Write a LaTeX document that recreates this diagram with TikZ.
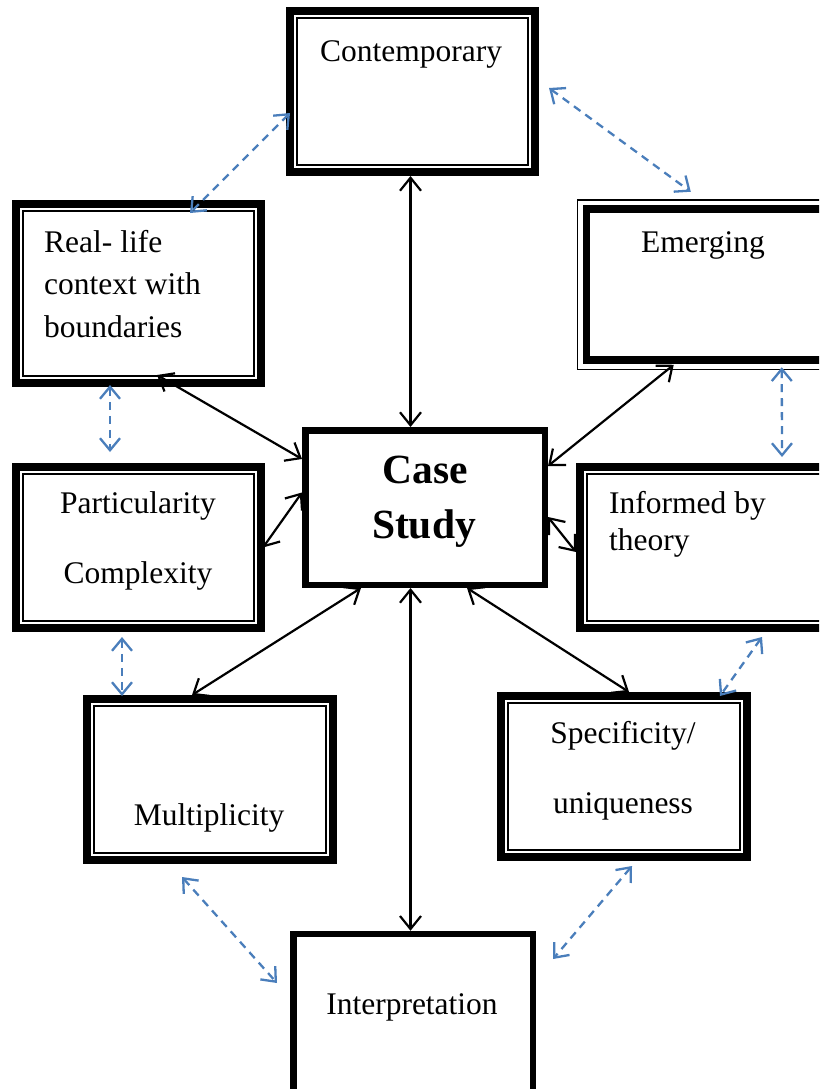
\documentclass[tikz,border=0pt]{standalone}
\usepackage{fontspec}
\setmainfont{Liberation Serif}
\usetikzlibrary{arrows.meta,calc}
\definecolor{dashblue}{RGB}{74,126,187}
\tikzset{
  x=1pt,y=-1pt,
  thickbox/.style={draw=black,line width=8pt,inner sep=0pt,fill=white},
  plainbox/.style={draw=black,line width=6.5pt,inner sep=0pt,fill=white},
  thinline/.style={draw=black,line width=1.5pt},
  lbl/.style={inner sep=0pt,anchor=base,font=\fontsize{31.5}{37}\selectfont},
  lblw/.style={lbl,anchor=base west},
  blbl/.style={inner sep=0pt,anchor=base,font=\fontsize{41.5}{48}\selectfont\bfseries},
  conn/.style={line width=2.2pt,draw=black,{Straight Barb[length=13pt,width=21pt]}-{Straight Barb[length=13pt,width=21pt]}},
  dconn/.style={line width=2.3pt,draw=dashblue,dash pattern=on 8pt off 6pt,{Straight Barb[length=12pt,width=20pt]}-{Straight Barb[length=12pt,width=20pt]}}
}
\newcommand\innerframe[2]{\draw[thinline] ($(#1.north west)+(#2,#2)$) rectangle ($(#1.south east)+(-#2,-#2)$);}
\begin{document}
\begin{tikzpicture}
\path[use as bounding box] (0,0) rectangle (819,1089);
\clip (0,0) rectangle (819,1089);
% boxes
\node[thickbox,minimum width=245pt,minimum height=161pt] (cont) at (412.5,91.5) {};
\innerframe{cont}{11}
\node[thickbox,minimum width=245pt,minimum height=179pt] (real) at (138.5,293.5) {};
\innerframe{real}{11}
\node[thickbox,line width=7.5pt,minimum width=253.5pt,minimum height=151pt] (emer) at (713.25,284.5) {};
\innerframe{emer}{-5.5}
\node[thickbox,minimum width=245pt,minimum height=161pt] (part) at (138.5,547.5) {};
\innerframe{part}{11}
\node[plainbox,minimum width=239.5pt,minimum height=154.5pt] (case) at (425,507.5) {};
\node[thickbox,minimum width=260pt,minimum height=161pt] (inf) at (710,547.5) {};
\innerframe{inf}{11}
\node[thickbox,minimum width=246pt,minimum height=161pt] (mult) at (210,779.5) {};
\innerframe{mult}{11}
\node[thickbox,minimum width=246pt,minimum height=161pt] (spec) at (624,776.5) {};
\innerframe{spec}{11}
\node[plainbox,minimum width=239.5pt,minimum height=176pt] (interp) at (413,1022) {};
% texts
\node[lbl] (tcont) at (411,62) {Contemporary};
\node[lblw] (treal1) at (44,252) {Real- life};
\node[lblw] (treal2) at (44,294) {context with};
\node[lblw] (treal3) at (44,337) {boundaries};
\node[lbl] (temer) at (703,252) {Emerging};
\node[lbl] (tpart1) at (138,513) {Particularity};
\node[lbl] (tpart2) at (138,583) {Complexity};
\node[blbl] (tcase1) at (425,483) {Case};
\node[blbl] (tcase2) at (424,538) {Study};
\node[lblw] (tinf1) at (609,513) {Informed by};
\node[lblw] (tinf2) at (609,550) {theory};
\node[lbl] (tmult) at (209,825) {Multiplicity};
\node[lbl] (tspec1) at (623,743) {Specificity/};
\node[lbl] (tspec2) at (623,813) {uniqueness};
\node[lbl] (tinterp) at (412,1014) {Interpretation};
% black connectors
\draw[conn] ($(cont.south)+(-2,0)$) -- ($(case.north)+(-14.5,0)$);
\draw[conn] ($(real.south)+(18.5,-12)$) -- ($(case.west)+(0,-48.5)$);
\draw[conn] ($(emer.south west)+(91,1)$) -- ($(case.east)+(0,-41.5)$);
\draw[conn] ($(part.east)+(-2,0)$) -- ($(case.west)+(0,-15)$);
\draw[conn] ($(case.east)+(0,9.5)$) -- ($(inf.west)+(0,4.5)$);
\draw[conn] ($(case.south)+(-64,0)$) -- ($(mult.north)+(-18,0)$);
\draw[conn] ($(case.south)+(42,0)$) -- ($(spec.north)+(5,0)$);
\draw[conn] ($(case.south)+(-14.5,0)$) -- ($(interp.north)+(-2.5,0)$);
% blue dashed connectors
\draw[dconn] ($(cont.west)+(4,21.5)$) -- ($(real.north)+(51.5,13)$);
\draw[dconn] ($(cont.east)+(10,-3.5)$) -- ($(emer.north west)+(108,-13.5)$);
\draw[dconn] ($(real.south)+(-28.5,-2)$) -- ($(part.north)+(-28.5,-11)$);
\draw[dconn] ($(emer.south west)+(199,3.5)$) -- ($(inf.north west)+(206,-6)$);
\draw[dconn] ($(part.south)+(-16.5,5)$) -- ($(mult.north)+(-88,1)$);
\draw[dconn] ($(inf.south west)+(186,5)$) -- ($(spec.north)+(96,4)$);
\draw[dconn] ($(mult.south)+(-28,13)$) -- ($(interp.west)+(-13,-39)$);
\draw[dconn] ($(spec.south)+(8,5)$) -- ($(interp.east)+(17,-63)$);
\end{tikzpicture}
\end{document}
